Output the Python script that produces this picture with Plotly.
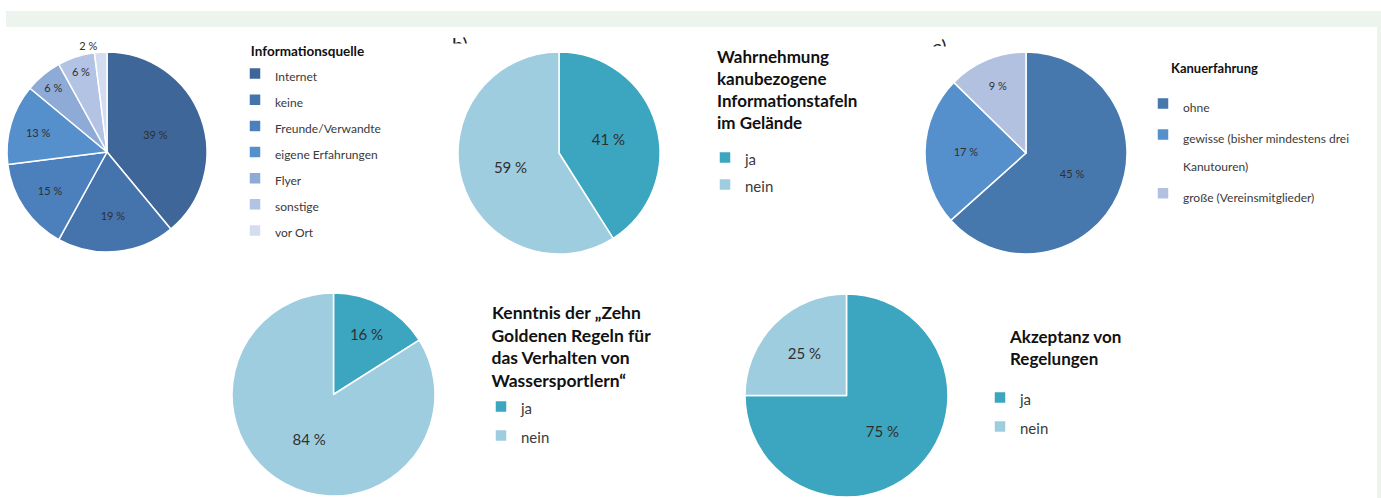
import plotly.graph_objects as go

W, H = 1381, 498

# ---- data ----
a_labels = ["Internet", "keine", "Freunde/Verwandte", "eigene Erfahrungen", "Flyer", "sonstige", "vor Ort"]
a_values = [39, 19, 15, 13, 6, 6, 2]
a_title = "Informationsquelle"

b_labels = ["ja", "nein"]
b_values = [41, 59]
b_title = "Wahrnehmung<br>kanubezogene<br>Informationstafeln<br>im Gelände"

c_labels = ["ohne", "gewisse (bisher mindestens drei<br>Kanutouren)", "große (Vereinsmitglieder)"]
c_values = [45, 17, 9]
c_title = "Kanuerfahrung"

d_labels = ["ja", "nein"]
d_values = [16, 84]
d_title = "Kenntnis der „Zehn<br>Goldenen Regeln für<br>das Verhalten von<br>Wassersportlern“"

e_labels = ["ja", "nein"]
e_values = [75, 25]
e_title = "Akzeptanz von<br>Regelungen"

# ---- styles ----
FONT = "Lato"
a_colors = ["#3e6699", "#4573ab", "#4b80bd", "#5590cd", "#8eaad6", "#b3c3e3", "#d4dcef"]
c_colors = ["#4677ad", "#5690cc", "#b3c1e1"]
yn_colors = ["#3ca5bf", "#9fcde0"]
NB = "\u00a0"


def px(x):
    return x / W


def py(y):
    return 1 - y / H


def small(labels, size, extra=""):
    # wrap legend labels in a span so the text is small while the legend row pitch stays wide
    return [f"<span style='font-size:{size}px{extra}'>{l}</span>" for l in labels]


fig = go.Figure()


def add_pie(labels, values, colors, dom, legend, tsize, tpos="inside"):
    x0, x1, y0, y1 = dom
    fig.add_trace(go.Pie(
        labels=labels, values=values, sort=False, direction="clockwise",
        rotation=0,
        marker=dict(colors=colors, line=dict(color="white", width=1.5)),
        texttemplate="%{value} %", textposition=tpos,
        insidetextorientation="horizontal",
        textfont=dict(family=FONT, size=tsize, color="#2f2f2f"),
        domain=dict(x=[px(x0), px(x1)], y=[py(y1), py(y0)]),
        legend=legend, hoverinfo="skip", showlegend=True,
    ))


add_pie(small(a_labels, 12), a_values, a_colors, (7, 207, 52, 252), "legend", 11,
        ["inside"] * 6 + ["outside"])
add_pie(small(b_labels, 15), b_values, yn_colors, (458, 660, 52, 254), "legend2", 15)
add_pie(small(c_labels, 12), c_values, c_colors, (925, 1127, 52, 254), "legend3", 11)
add_pie(small(d_labels, 15, ";"), d_values, yn_colors, (232, 435, 293, 496), "legend4", 15)
add_pie(small(e_labels, 15, "; "), e_values, yn_colors, (745, 948, 294, 497), "legend5", 15)


def leg(x, y, fsize, title=None, tsize=None, pad=0, valign="middle"):
    d = dict(
        x=px(x), y=py(y), xanchor="left", yanchor="top",
        bgcolor="rgba(0,0,0,0)", borderwidth=0, valign=valign,
        font=dict(family=FONT, size=fsize, color="#3a3a3a"),
        traceorder="normal",
    )
    if title:
        d["title"] = dict(text=NB * pad + f"<b>{title.replace('<br>', '<br>' + NB * pad)}</b>",
                          font=dict(family=FONT, size=tsize, color="#111111"), side="top")
    return d


def title_ann(text, x, y, size):
    return dict(text=f"<b>{text}</b>", x=px(x), y=py(y), xref="paper", yref="paper",
                xanchor="left", yanchor="top", align="left", showarrow=False,
                font=dict(family=FONT, size=size, color="#111111"))


shapes = [
    dict(type="rect", xref="paper", yref="paper", x0=px(6), x1=1, y0=py(27), y1=py(11),
         fillcolor="#edf3ed", line=dict(width=0), layer="below"),
    dict(type="rect", xref="paper", yref="paper", x0=px(1377), x1=1, y0=0, y1=py(27),
         fillcolor="#edf3ed", line=dict(width=0), layer="below"),
]

annotations = [
    dict(text="b)", x=px(450), y=py(30), xref="paper", yref="paper", xanchor="left", yanchor="top",
         showarrow=False, font=dict(family=FONT, size=20, color="#222")),
    dict(text="c)", x=px(930), y=py(32), xref="paper", yref="paper", xanchor="left", yanchor="top",
         showarrow=False, font=dict(family=FONT, size=20, color="#222")),
    dict(text=" ", x=px(440), y=py(43), xref="paper", yref="paper", xanchor="left", yanchor="top",
         showarrow=False, width=50, height=20, bgcolor="white", borderpad=0),
    dict(text=" ", x=px(920), y=py(46), xref="paper", yref="paper", xanchor="left", yanchor="top",
         showarrow=False, width=50, height=20, bgcolor="white", borderpad=0),
    title_ann(b_title, 715, 44, 17),
    title_ann(c_title, 1169, 58, 13),
    title_ann(e_title, 1007, 324, 17),
]

fig.update_layout(
    width=W, height=H, margin=dict(l=0, r=0, t=0, b=0),
    paper_bgcolor="white", plot_bgcolor="white",
    font=dict(family=FONT),
    legend=leg(235, 38, 17.8, a_title, 13.5, 4),
    legend2=leg(705, 139, 18.5),
    legend3=leg(1143, 83, 21.5, valign="top"),
    legend4=leg(481, 296, 20, d_title, 17.5, 2),
    legend5=leg(980, 378, 20),
    shapes=shapes, annotations=annotations,
)

fig.write_html("out.html", config={"displayModeBar": False},
               post_script="document.body.style.margin='0px';")
